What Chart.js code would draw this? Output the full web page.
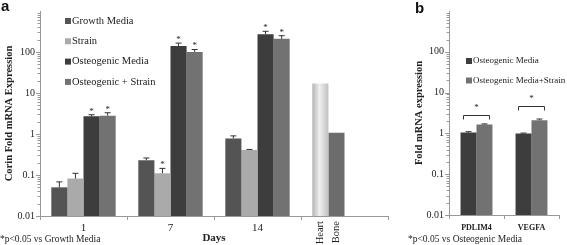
<!DOCTYPE html>
<html>
<head>
<meta charset="utf-8">
<script src="https://cdn.jsdelivr.net/npm/chart.js@4/dist/chart.umd.min.js"></script>
<style>
  body { margin: 0; background: #fff; width: 567px; height: 245px; position: relative; overflow: hidden; font-family: "Liberation Serif", serif; color: #222; }
  #wa { position: absolute; left: 0; top: 0; }
  #wb { position: absolute; left: 380px; top: 0; }
  .panel { position: absolute; font-family: "Liberation Sans", Arial, sans-serif; font-weight: bold; font-size: 15px; color: #111; }
  .note { position: absolute; font-size: 9.5px; white-space: nowrap; }
</style>
</head>
<body>
<canvas id="wa" width="390" height="245"></canvas>
<canvas id="wb" width="187" height="245"></canvas>
<div class="panel" style="left:1px;top:-3px">a</div>
<div class="panel" style="left:415px;top:-1px">b</div>
<div class="note" style="left:0px;top:234px">*p&lt;0.05 vs Growth Media</div>
<div class="note" style="left:408px;top:234px">*p&lt;0.05 vs Osteogenic Media</div>
<script>
// panel a: Corin expression by day
const dayLabels = ['1', '7', '14', ''];
const refLabels = ['Heart', 'Bone'];
const refValues = [17, 1.07];

const growthMedia = [0.05, 0.23, 0.78];
const strain = [0.082, 0.11, 0.41];
const osteoMedia = [2.7, 140, 270];
const osteoStrain = [2.8, 100, 210];

const growthErr = [0.018, 0.03, 0.12];
const strainErr = [0.028, 0.035, 0.01];
const osteoErr = [0.25, 25, 50];
const osteoStrainErr = [0.5, 15, 40];

const strainSig = [false, true, false];
const osteoSig = [true, true, true];
const osteoStrainSig = [true, true, true];

// panel b: PDLIM4 / VEGFA
const geneLabels = ['PDLIM4', 'VEGFA'];
const geneOsteo = [1.05, 1.0];
const geneOsteoStrain = [1.65, 2.1];
const geneOsteoErr = [0.05, 0.02];
const geneOsteoStrainErr = [0.06, 0.15];
const bracketLevels = [2.75, 4.8];

const colGrowth = '#545454';
const colStrain = '#aaaaaa';
const colOsteo = '#3d3d3d';
const colOsteoStrain = '#727272';
const colBone = '#6c6c6c';
const serif = 'Liberation Serif';

function heartFill(ctx) {
    const el = ctx.element;
    if (!el || !isFinite(el.x) || !isFinite(el.width)) return '#dcdcdc';
    const g = ctx.chart.ctx.createLinearGradient(el.x - el.width / 2, 0, el.x + el.width / 2, 0);
    g.addColorStop(0, '#b4b4b4');
    g.addColorStop(0.45, '#f0f0f0');
    g.addColorStop(1, '#c0c0c0');
    return g;
}

function logTick(v) {
    const e = Math.log10(v);
    if (Math.abs(e - Math.round(e)) < 1e-9 && v < 999) return String(+v.toPrecision(1));
    return '';
}

const errorBars = {
    id: 'errorBars',
    afterDatasetsDraw(chart) {
        const c = chart.ctx;
        const y = chart.scales.y;
        chart.data.datasets.forEach((ds, i) => {
            if (!ds.errors) return;
            const meta = chart.getDatasetMeta(i);
            ds.errors.forEach((err, j) => {
                const bar = meta.data[j];
                const v = ds.data[j];
                if (!bar || v == null) return;
                const y0 = y.getPixelForValue(v);
                const y1 = y.getPixelForValue(v + err);
                c.save();
                c.strokeStyle = '#333';
                c.lineWidth = 1;
                c.beginPath();
                c.moveTo(bar.x, y0);
                c.lineTo(bar.x, y1);
                c.moveTo(bar.x - 3, y1);
                c.lineTo(bar.x + 3, y1);
                c.stroke();
                if (ds.sig && ds.sig[j]) {
                    c.fillStyle = '#222';
                    c.font = '9px ' + serif;
                    c.textAlign = 'center';
                    c.textBaseline = 'bottom';
                    c.fillText('*', bar.x, y1 + 1);
                }
                c.restore();
            });
        });
    }
};

// small log-decade ticks on the left of the y axis
const minorTicks = {
    id: 'minorTicks',
    afterDraw(chart) {
        const c = chart.ctx;
        const y = chart.scales.y;
        const x0 = chart.chartArea.left;
        c.save();
        c.strokeStyle = '#999';
        c.lineWidth = 1;
        c.beginPath();
        for (let e = -2; e < 3; e++) {
            for (let k = 1; k < 10; k++) {
                const py = Math.round(y.getPixelForValue(k * Math.pow(10, e))) + 0.5;
                c.moveTo(x0 - (k === 1 ? 4 : 2.5), py);
                c.lineTo(x0, py);
            }
        }
        c.stroke();
        c.restore();
    }
};

const boxLegend = {
    id: 'boxLegend',
    afterDraw(chart, args, opts) {
        const c = chart.ctx;
        c.save();
        c.font = opts.size + 'px ' + serif;
        c.textBaseline = 'middle';
        let k = 0;
        chart.data.datasets.forEach(ds => {
            if (!ds.legendColor) return;
            const yy = opts.y + k * opts.gap;
            c.fillStyle = ds.legendColor;
            c.fillRect(opts.x, yy - 3, 6, 6);
            c.fillStyle = '#222';
            c.fillText(ds.label, opts.x + 7, yy);
            k++;
        });
        c.restore();
    }
};

const refTicks = {
    id: 'refTicks',
    afterDraw(chart) {
        const c = chart.ctx;
        const top = chart.chartArea.bottom + 5;
        c.save();
        c.font = '10.5px ' + serif;
        c.fillStyle = '#222';
        c.textAlign = 'right';
        c.textBaseline = 'middle';
        refLabels.forEach((txt, i) => {
            const bar = chart.getDatasetMeta(i).data[dayLabels.length - 1];
            c.save();
            c.translate(bar.x, top);
            c.rotate(-Math.PI / 2);
            c.fillText(txt, 0, 0);
            c.restore();
        });
        c.restore();
    }
};

const brackets = {
    id: 'brackets',
    afterDatasetsDraw(chart) {
        const c = chart.ctx;
        const y = chart.scales.y;
        const m0 = chart.getDatasetMeta(0), m1 = chart.getDatasetMeta(1);
        bracketLevels.forEach((lv, j) => {
            const a = m0.data[j], b = m1.data[j];
            const yy = Math.round(y.getPixelForValue(lv)) + 0.5;
            c.save();
            c.strokeStyle = '#333';
            c.lineWidth = 1;
            c.beginPath();
            c.moveTo(a.x - 5, yy + 4);
            c.lineTo(a.x - 5, yy);
            c.lineTo(b.x + 5, yy);
            c.lineTo(b.x + 5, yy + 4);
            c.stroke();
            c.fillStyle = '#222';
            c.font = '9px ' + serif;
            c.textAlign = 'center';
            c.textBaseline = 'bottom';
            c.fillText('*', (a.x + b.x) / 2, yy - 3);
            c.restore();
        });
    }
};

function yScale(title, width, titlePad) {
    return {
        type: 'logarithmic',
        min: 0.01,
        max: 1000,
        grid: { drawOnChartArea: false, drawTicks: false, color: '#999' },
        border: { color: '#999' },
        ticks: { autoSkip: false, callback: logTick, color: '#222', padding: 5, font: { family: serif, size: 10 } },
        title: { display: true, text: title, color: '#222', padding: titlePad, font: { family: serif, size: 10.5, weight: 'bold' } },
        afterFit(s) { s.width = width; }
    };
}

const chartA = new Chart(document.getElementById('wa'), {
    type: 'bar',
    data: {
        labels: dayLabels,
        datasets: [
            { label: 'Growth Media', data: [...growthMedia, refValues[0]], errors: growthErr, legendColor: colGrowth,
              backgroundColor: ctx => ctx.dataIndex === dayLabels.length - 1 ? heartFill(ctx) : colGrowth },
            { label: 'Strain', data: [...strain, refValues[1]], errors: strainErr, sig: strainSig, legendColor: colStrain,
              backgroundColor: [colStrain, colStrain, colStrain, colBone] },
            { label: 'Osteogenic Media', data: [...osteoMedia, null], errors: osteoErr, sig: osteoSig, legendColor: colOsteo,
              backgroundColor: colOsteo },
            { label: 'Osteogenic + Strain', data: [...osteoStrain, null], errors: osteoStrainErr, sig: osteoStrainSig, legendColor: colOsteoStrain,
              backgroundColor: colOsteoStrain }
        ]
    },
    options: {
        responsive: false,
        animation: false,
        layout: { padding: { top: 0, right: 2, left: 0, bottom: 0 } },
        datasets: { bar: { categoryPercentage: 0.74, barPercentage: 1, borderWidth: 0 } },
        plugins: {
            legend: { display: false },
            tooltip: { enabled: false },
            boxLegend: { x: 65, y: 21, gap: 20.3, size: 10.5 }
        },
        scales: {
            x: {
                grid: { drawOnChartArea: false, offset: true, tickLength: 4, color: '#999' },
                border: { color: '#999' },
                ticks: { color: '#222', padding: 2, maxRotation: 0, font: { family: serif, size: 11 } },
                title: { display: true, text: 'Days', color: '#222', padding: 0, font: { family: serif, size: 11, weight: 'bold' } },
                afterFit(s) { s.height = 29; }
            },
            y: yScale('Corin Fold mRNA Expression', 40, 3)
        }
    },
    plugins: [errorBars, boxLegend, refTicks, minorTicks]
});
chartA.update('none');

const chartB = new Chart(document.getElementById('wb'), {
    type: 'bar',
    data: {
        labels: geneLabels,
        datasets: [
            { label: 'Osteogenic Media', data: geneOsteo, errors: geneOsteoErr, legendColor: colOsteo, backgroundColor: colOsteo },
            { label: 'Osteogenic Media+Strain', data: geneOsteoStrain, errors: geneOsteoStrainErr, legendColor: colOsteoStrain, backgroundColor: colOsteoStrain }
        ]
    },
    options: {
        responsive: false,
        animation: false,
        layout: { padding: { top: 6, right: 8, left: 0, bottom: 0 } },
        datasets: { bar: { categoryPercentage: 0.58, barPercentage: 1, borderWidth: 0 } },
        plugins: {
            legend: { display: false },
            tooltip: { enabled: false },
            boxLegend: { x: 86, y: 61, gap: 19.5, size: 9 }
        },
        scales: {
            x: {
                grid: { drawOnChartArea: false, offset: true, tickLength: 4, color: '#999' },
                border: { color: '#999' },
                ticks: { color: '#222', padding: 4, maxRotation: 0, font: { family: serif, size: 8, weight: 'bold' } },
                afterFit(s) { s.height = 30; }
            },
            y: yScale('Fold mRNA expression', 69, 33)
        }
    },
    plugins: [errorBars, boxLegend, brackets, minorTicks]
});
</script>
</body>
</html>
